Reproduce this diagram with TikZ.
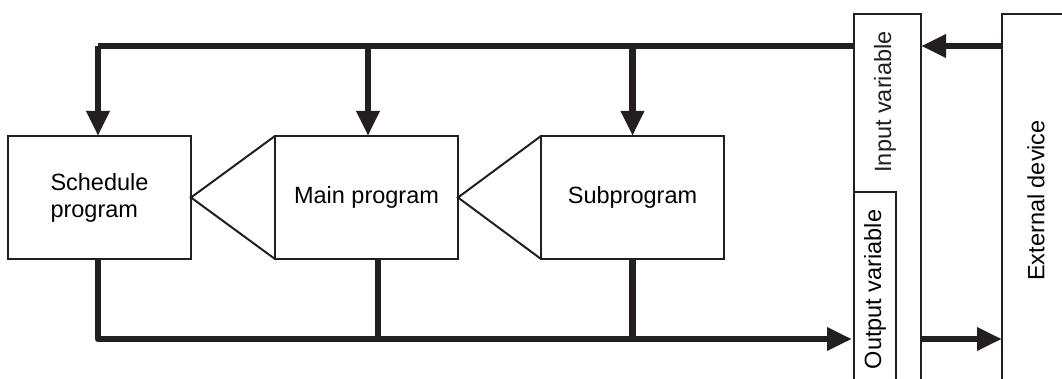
\documentclass[tikz,border=0pt]{standalone}
\usepackage{fontspec}
\setmainfont{Liberation Sans}
\usetikzlibrary{arrows.meta, positioning, calc}
\definecolor{ink}{HTML}{231F20}

\begin{document}
\begin{tikzpicture}[
  x=1pt, y=-1pt,
  box/.style={draw=ink, line width=2pt, outer sep=0pt, inner sep=0pt,
              minimum width=183pt, minimum height=123pt, align=left,
              font=\fontsize{23.5}{27}\selectfont},
  varbox/.style={draw=ink, line width=2pt, outer sep=0pt, inner sep=0pt,
                 font=\fontsize{23.5}{27}\selectfont},
  lbl/.style={font=\fontsize{23.5}{27}\selectfont, text=ink},
  bus/.style={draw=ink, line width=6.5pt, line join=round},
  arr/.style={bus, -{Triangle[length=25pt, width=22pt]}},
  wedge/.style={draw=ink, line width=2pt, line join=miter}
]
  \useasboundingbox (0,0) rectangle (1062,379);
  \clip (0,0) rectangle (1062,379);

  % program blocks
  \node[box] (sched) at (99.5,197.5) {Schedule\\program};
  \node[box] (mainprog) at (366.5,197.5) {Main program};
  \node[box] (subprog) at (632.5,197.5) {Subprogram};

  \draw[wedge] (mainprog.north west) -- (sched.east) -- (mainprog.south west);
  \draw[wedge] (subprog.north west) -- (mainprog.east) -- (subprog.south west);

  % variable areas and device
  \node[varbox, minimum width=67pt, minimum height=373pt] (invar) at (887.5,200.5) {};
  \node[lbl, rotate=90] (invarlbl) at (885,102) {Input variable};
  \node[varbox, rotate=90, minimum width=195pt, minimum height=42pt] (outvar) at (875,289.5) {Output variable};
  \node[varbox, rotate=90, minimum width=373pt, minimum height=68pt] (extdev) at (1036,200.5) {External device};

  % buses
  \coordinate (tl) at (98,46);
  \coordinate (tm) at (368,46);
  \coordinate (bl) at (98,339);
  \coordinate (bm) at (378,339);

  \draw[bus] (invar.west |- tl) -- (tl);
  \draw[arr] (tl) -- (tl |- sched.north);
  \draw[arr] (tm) -- (tm |- mainprog.north);
  \draw[arr] (subprog.north |- tl) -- (subprog.north);
  \draw[arr] (extdev.north |- tl) -- (invar.east |- tl);

  \draw[arr] (tl |- sched.south) -- (bl) -- ($(outvar.north |- bl)+(-2,0)$);
  \draw[bus] (bm |- mainprog.south) -- (bm);
  \draw[bus] (subprog.south) -- (subprog.south |- bl);
  \draw[arr] (invar.east |- bl) -- (extdev.north |- bl);
\end{tikzpicture}
\end{document}
